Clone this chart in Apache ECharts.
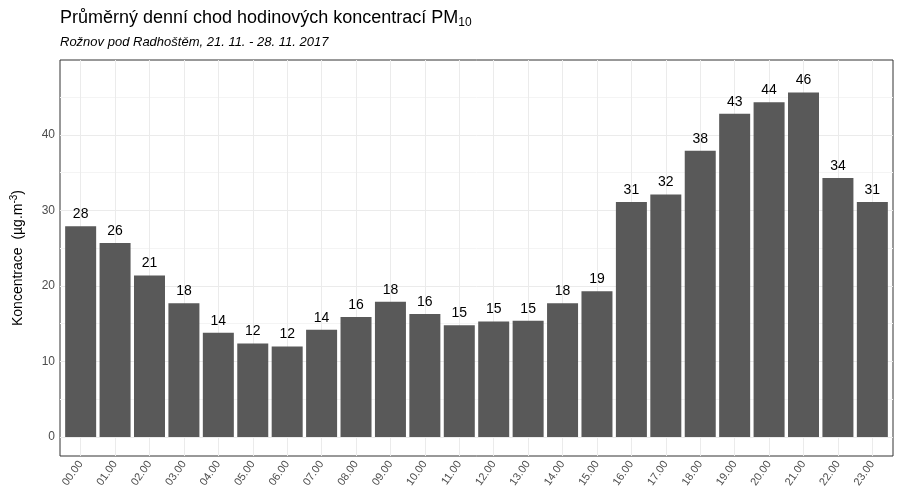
<!DOCTYPE html>
<html>
<head>
<meta charset="utf-8">
<script src="https://cdn.jsdelivr.net/npm/echarts@6/dist/echarts.min.js"></script>
<style>
  html, body { margin: 0; padding: 0; background: #fff; }
  #chart { width: 900px; height: 500px; }
</style>
</head>
<body>
<div id="chart"></div>
<script>
// hodiny a průměrné koncentrace PM10
var hours = ["00.00", "01.00", "02.00", "03.00", "04.00", "05.00", "06.00", "07.00",
  "08.00", "09.00", "10.00", "11.00", "12.00", "13.00", "14.00", "15.00",
  "16.00", "17.00", "18.00", "19.00", "20.00", "21.00", "22.00", "23.00"];
var values = [27.9, 25.7, 21.4, 17.7, 13.8, 12.4, 12.0, 14.2, 15.9, 17.9, 16.3, 14.8,
  15.3, 15.4, 17.7, 19.3, 31.1, 32.1, 37.9, 42.8, 44.3, 45.6, 34.3, 31.1];
var yTicks = [0, 10, 20, 30, 40];
var yGrid = [0, 5, 10, 15, 20, 25, 30, 35, 40, 45];

var myChart = echarts.init(document.getElementById("chart"));

var xIdx = hours.map(function (h, i) { return i; });
var gridLines = [];
yGrid.forEach(function (v) {
  gridLines.push({ yAxis: v, lineStyle: { color: v % 10 === 0 ? "#ebebeb" : "#f4f4f4" } });
});
xIdx.forEach(function (i) {
  gridLines.push({ xAxis: i, lineStyle: { color: "#ebebeb" } });
});

var option = {
  animation: false,
  textStyle: { fontFamily: "Liberation Sans" },
  title: {
    left: 55,
    top: 3,
    text: "{a|Průměrný denní chod hodinových koncentrací PM}{b|10}",
    textStyle: {
      fontWeight: "normal",
      rich: {
        a: { fontSize: 18, fontWeight: "normal", color: "#000", fontFamily: "Liberation Sans" },
        b: { fontSize: 12, fontWeight: "normal", color: "#000", fontFamily: "Liberation Sans", padding: [9, 0, 0, 0] }
      }
    },
    subtext: "Rožnov pod Radhoštěm, 21. 11. - 28. 11. 2017",
    subtextStyle: { fontSize: 13, fontStyle: "italic", color: "#000", fontFamily: "Liberation Sans" },
    itemGap: 8
  },
  grid: { left: 60, right: 7, top: 60, bottom: 44, show: true, borderColor: "#333", borderWidth: 1 },
  xAxis: {
    type: "value",
    min: -0.6,
    max: 23.6,
    axisLine: { show: false },
    splitLine: { show: false },
    axisTick: { show: true, customValues: xIdx, length: 4, lineStyle: { color: "#333" } },
    axisLabel: {
      customValues: xIdx,
      rotate: 55,
      margin: 6,
      fontSize: 11,
      color: "#4d4d4d",
      formatter: function (v) { return hours[Math.round(v)]; }
    }
  },
  yAxis: {
    type: "value",
    min: -2.5,
    max: 49.9,
    axisLine: { show: false },
    splitLine: { show: false },
    axisTick: { show: true, customValues: yTicks, length: 4, lineStyle: { color: "#333" } },
    axisLabel: { customValues: yTicks, fontSize: 12, color: "#4d4d4d", margin: 5 },
    name: "{a|Koncentrace  (µg.m}{b|-3}{a|)}",
    nameLocation: "middle",
    nameRotate: 90,
    nameGap: 33,
    nameTextStyle: {
      rich: {
        a: { fontSize: 14, color: "#000", fontFamily: "Liberation Sans" },
        b: { fontSize: 10, color: "#000", fontFamily: "Liberation Sans", padding: [0, 0, 8, 0] }
      }
    }
  },
  series: [
    {
      type: "line",
      data: [],
      z: 1,
      markLine: {
        silent: true,
        symbol: "none",
        label: { show: false },
        lineStyle: { type: "solid", width: 1 },
        data: gridLines
      }
    },
    {
      type: "bar",
      zlevel: 1,
      z: 2,
      barWidth: 31,
      data: values.map(function (v, i) { return [i, v]; }),
      itemStyle: { color: "#595959" },
      label: {
        show: true,
        position: "top",
        distance: 5,
        fontSize: 14,
        color: "#000",
        formatter: function (p) { return Math.round(p.value[1]); }
      }
    }
  ]
};
myChart.setOption(option);
</script>
</body>
</html>
